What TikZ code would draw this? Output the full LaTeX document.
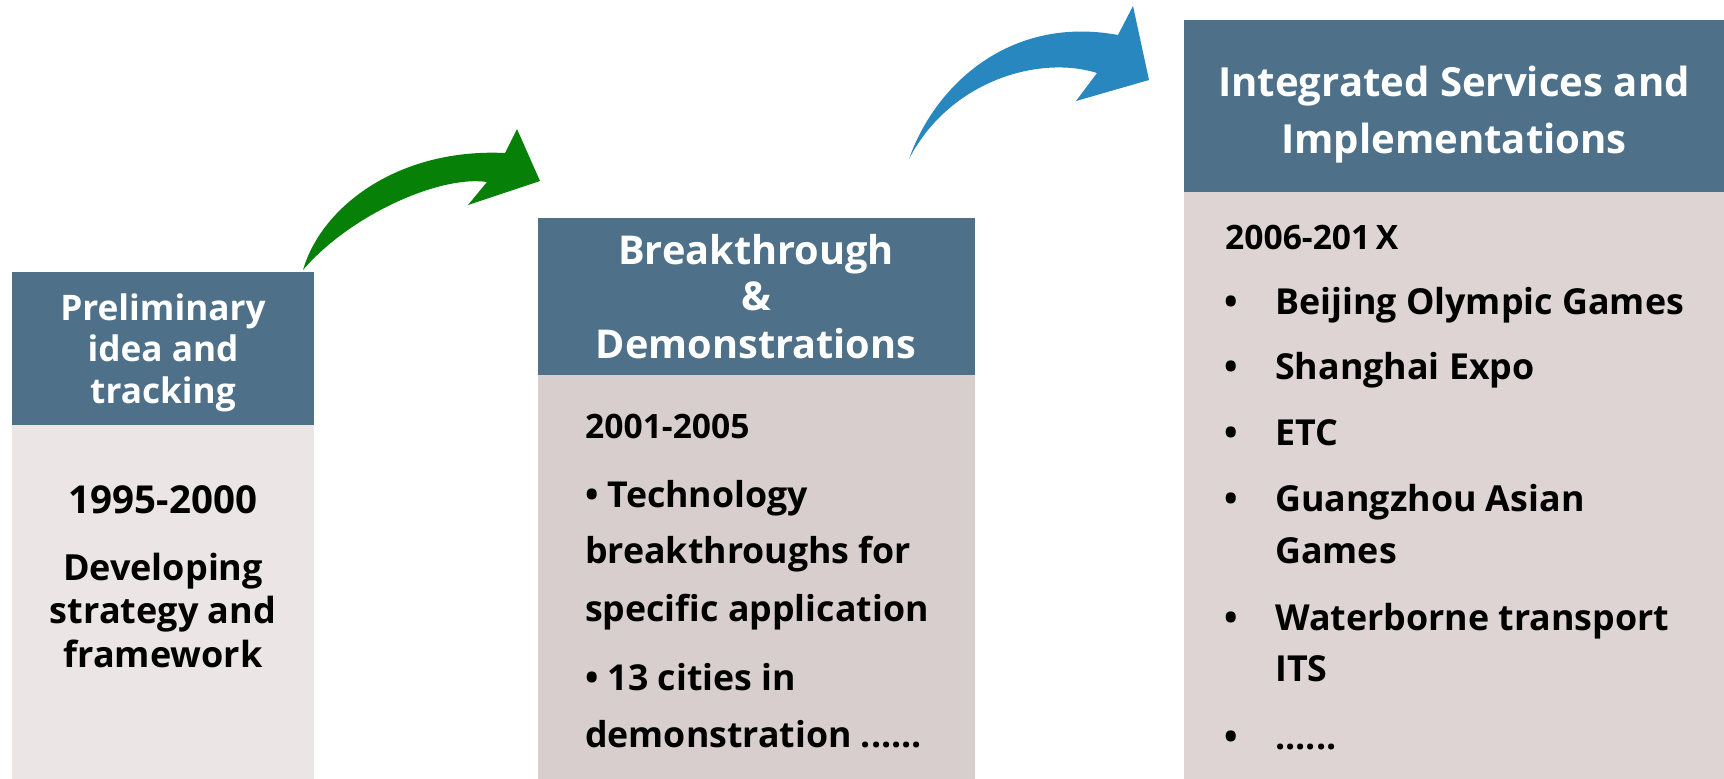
\documentclass[tikz,border=0pt]{standalone}
\usepackage{fontspec}
\setmainfont{Open Sans}
\definecolor{hdrblue}{HTML}{4E7189}
\definecolor{bodyA}{HTML}{EBE5E5}
\definecolor{bodyB}{HTML}{D8CECD}
\definecolor{bodyC}{HTML}{DDD4D3}
\definecolor{arrgreen}{HTML}{078007}
\definecolor{arrblue}{HTML}{2987C0}
\tikzset{
  boxpart/.style={anchor=north west, inner sep=0pt, outer sep=0pt, draw=none},
  hdrtext/.style={anchor=base, inner sep=0pt, text=white, font=\bfseries\fontsize{35.2}{35.2}\selectfont},
  hdrtextB/.style={anchor=base, inner sep=0pt, text=white, font=\bfseries\fontsize{39.7}{39.7}\selectfont},
  hdrtextC/.style={anchor=base, inner sep=0pt, text=white, font=\bfseries\fontsize{40.1}{40.1}\selectfont},
  yearA/.style={anchor=base, inner sep=0pt, text=black, font=\bfseries\fontsize{38.5}{38.5}\selectfont},
  bigtext/.style={anchor=base, inner sep=0pt, text=black, font=\bfseries\fontsize{36}{36}\selectfont},
  yeartext/.style={anchor=base west, inner sep=0pt, text=black, font=\bfseries\fontsize{33.6}{33.6}\selectfont},
  itemtext/.style={anchor=base west, inner sep=0pt, text=black, font=\bfseries\fontsize{35.7}{35.7}\selectfont},
  itemtextC/.style={anchor=base west, inner sep=0pt, text=black, font=\bfseries\fontsize{35.8}{35.8}\selectfont},
  bulletC/.style={anchor=base, inner sep=0pt, text=black, font=\bfseries\fontsize{35.8}{35.8}\selectfont},
}
\begin{document}
\begin{tikzpicture}[x=1pt,y=-1pt]
\useasboundingbox (0,0) rectangle (1724,779);
\fill[white] (0,0) rectangle (1724,779);

% Box 1
\node[boxpart, fill=hdrblue, minimum width=302.3pt, minimum height=153.3pt] (h1) at (11.7,271.7) {};
\node[boxpart, fill=bodyA, minimum width=302.3pt, minimum height=354pt] (b1) at (11.7,425) {};
\node[hdrtext] (h1a) at (163,320) {Preliminary};
\node[hdrtext] (h1b) at (163,361.7) {idea and};
\node[hdrtext] (h1c) at (163,403.3) {tracking};
\node[yearA] (b1a) at (163,513) {1995-2000};
\node[bigtext] (b1b) at (163,580) {Developing};
\node[bigtext] (b1c) at (163,623) {strategy and};
\node[bigtext] (b1d) at (163,667) {framework};

% Box 2
\node[boxpart, fill=hdrblue, minimum width=437pt, minimum height=157.5pt] (h2) at (537.5,217.5) {};
\node[boxpart, fill=bodyB, minimum width=437pt, minimum height=404pt] (b2) at (537.5,375) {};
\node[hdrtextB] (h2a) at (756,264.4) {Breakthrough};
\node[hdrtextB] (h2b) at (756,310.5) {\&};
\node[hdrtextB] (h2c) at (756,358.8) {Demonstrations};
\node[yeartext] (b2y) at (585,438.3) {2001-2005};
\node[itemtext] (b2a) at (585,507.3) {• Technology};
\node[itemtext] (b2b) at (585,563.8) {breakthroughs for};
\node[itemtext] (b2c) at (585,621.8) {specific application};
\node[itemtext] (b2d) at (585,690.8) {• 13 cities in};
\node[itemtext] (b2e) at (585,747) {demonstration ......};

% Box 3
\node[boxpart, fill=hdrblue, minimum width=540pt, minimum height=172.6pt] (h3) at (1184,19.8) {};
\node[boxpart, fill=bodyC, minimum width=540pt, minimum height=586.6pt] (b3) at (1184,192.4) {};
\node[hdrtextC] (h3a) at (1454,96) {Integrated Services and};
\node[hdrtextC] (h3b) at (1454,153) {Implementations};
\node[yeartext] (b3y) at (1225,249) {2006-201\,X};
\node[bulletC] (c1) at (1231,314) {•};
\node[itemtextC] (t1) at (1275,314) {Beijing Olympic Games};
\node[bulletC] (c2) at (1231,379) {•};
\node[itemtextC] (t2) at (1275,379) {Shanghai Expo};
\node[bulletC] (c3) at (1231,445) {•};
\node[itemtextC] (t3) at (1275,445) {ETC};
\node[bulletC] (c4) at (1231,511) {•};
\node[itemtextC] (t4) at (1275,511) {Guangzhou Asian};
\node[itemtextC] (t4b) at (1275,563) {Games};
\node[bulletC] (c5) at (1231,630) {•};
\node[itemtextC] (t5) at (1275,630) {Waterborne transport};
\node[itemtextC] (t5b) at (1275,681) {ITS};
\node[bulletC] (c6) at (1231,749) {•};
\node[itemtextC] (t6) at (1275,749) {......};

% Arrows
\fill[arrgreen] (303,270) .. controls (322,205) and (400,148) .. (505,153)
  -- (517,129) -- (540,181) -- (468,205) -- (487,182)
  .. controls (440,175) and (350,215) .. (303,270) -- cycle;
\fill[arrblue] (909,159) .. controls (935,85) and (1010,15) .. (1118,35)
  -- (1133,6) -- (1149,80) -- (1076,101) -- (1097,73)
  .. controls (1040,55) and (950,80) .. (909,159) -- cycle;
\end{tikzpicture}
\end{document}
